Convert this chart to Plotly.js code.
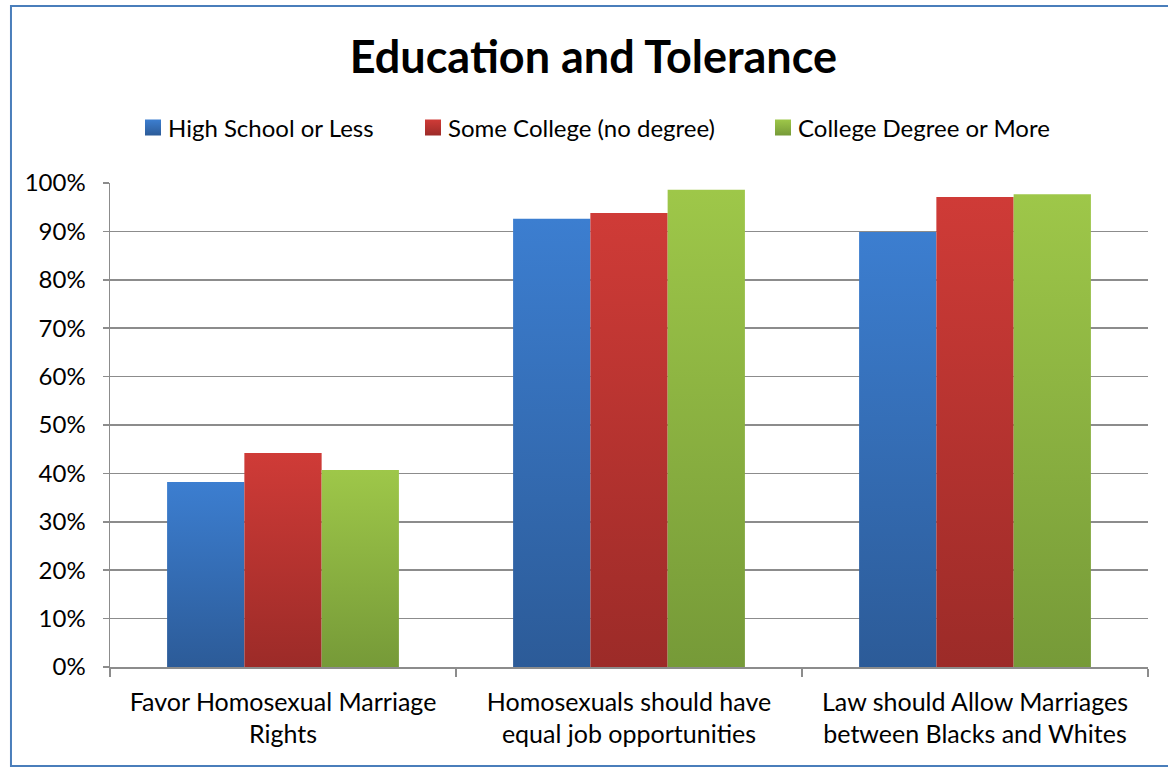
<!DOCTYPE html>
<html>
<head>
<meta charset="utf-8">
<script src="https://cdn.plot.ly/plotly-3.0.1.min.js"></script>
<style>
  html, body { margin: 0; padding: 0; background: #fff; }
  #chart { width: 1168px; height: 769px; }
</style>
</head>
<body>
<div id="chart"></div>
<script>
const categories = [
  "Favor Homosexual Marriage<br>Rights",
  "Homosexuals should have<br>equal job opportunities",
  "Law should Allow Marriages<br>between Blacks and Whites"
];
const seriesNames = ["High School or Less", "Some College (no degree)", "College Degree or More"];
const highSchool = [38.2, 92.6, 89.9];
const someCollege = [44.2, 93.8, 97.1];
const collegeDegree = [40.7, 98.6, 97.7];
const yTickVals = [0, 10, 20, 30, 40, 50, 60, 70, 80, 90, 100];

const seriesValues = [highSchool, someCollege, collegeDegree];
const topColors = ["#3c7ed0", "#cf3b37", "#9ec749"];
const bottomColors = ["#2c5b98", "#9c2b28", "#769a38"];
const legendIds = ["legend", "legend2", "legend3"];
// legend square left edges (px) in the figure
const legendSquareX = [145, 425, 775];

const FONT = "Lato, 'Open Sans', sans-serif";
const W = 1168, H = 769;
const M = { l: 110, r: 20, t: 183, b: 102 };
const PW = W - M.l - M.r;
const PH = H - M.t - M.b;

const traces = seriesValues.map((vals, i) => ({
  type: "bar",
  name: seriesNames[i],
  x: categories,
  y: vals,
  legend: legendIds[i],
  marker: { color: topColors[i], line: { width: 0 } },
  hoverinfo: "none"
}));

function legendCfg(i) {
  return {
    orientation: "h",
    x: (legendSquareX[i] - 17 - M.l) / PW, xanchor: "left",
    y: (H - M.b - 128) / PH, yanchor: "middle",
    font: { family: FONT, size: 24, color: "#000000" },
    itemwidth: 30,
    borderwidth: 0,
    bgcolor: "rgba(0,0,0,0)"
  };
}

const layout = {
  width: W,
  height: H,
  paper_bgcolor: "#ffffff",
  plot_bgcolor: "#ffffff",
  margin: M,
  title: {
    text: "<b>Education and Tolerance</b>",
    font: { family: FONT, size: 45, color: "#000000" },
    x: 0.508, xanchor: "center",
    y: 0.925, yanchor: "middle"
  },
  barmode: "group",
  bargap: 0.33,
  bargroupgap: 0,
  showlegend: true,
  legend: legendCfg(0),
  legend2: legendCfg(1),
  legend3: legendCfg(2),
  xaxis: {
    type: "category",
    showline: true,
    linecolor: "#8c8c8c",
    linewidth: 1.5,
    ticks: "outside",
    tickson: "boundaries",
    ticklen: 8,
    tickcolor: "#8c8c8c",
    tickwidth: 1.5,
    ticklabelstandoff: 12,
    tickfont: { family: FONT, size: 25, color: "#000000" },
    showgrid: false,
    fixedrange: true
  },
  yaxis: {
    range: [0, 100],
    tickvals: yTickVals,
    ticktext: yTickVals.map(v => v + "%"),
    showline: true,
    linecolor: "#8c8c8c",
    linewidth: 1.5,
    ticks: "outside",
    ticklen: 6,
    tickcolor: "#8c8c8c",
    tickwidth: 1.5,
    ticklabelstandoff: 12,
    tickfont: { family: FONT, size: 24, color: "#000000" },
    showgrid: true,
    gridcolor: "#8c8c8c",
    gridwidth: 1.6,
    zeroline: false,
    fixedrange: true
  },
  shapes: [{
    type: "rect",
    xref: "paper", yref: "paper",
    x0: -0.0954, x1: 1.03,
    y0: -0.2045, y1: 1.3657,
    line: { color: "#4a7ebb", width: 2 },
    fillcolor: "rgba(0,0,0,0)",
    layer: "below"
  }]
};

Plotly.newPlot("chart", traces, layout, { displayModeBar: false, staticPlot: true }).then(gd => {
  const svg = gd.querySelector("svg.main-svg");
  const ns = "http://www.w3.org/2000/svg";
  let defs = svg.querySelector("defs");
  if (!defs) { defs = document.createElementNS(ns, "defs"); svg.insertBefore(defs, svg.firstChild); }
  topColors.forEach((c, i) => {
    const g = document.createElementNS(ns, "linearGradient");
    g.setAttribute("id", "barGrad" + i);
    g.setAttribute("x1", "0"); g.setAttribute("y1", "0");
    g.setAttribute("x2", "0"); g.setAttribute("y2", "1");
    const s1 = document.createElementNS(ns, "stop");
    s1.setAttribute("offset", "0"); s1.setAttribute("stop-color", c);
    const s2 = document.createElementNS(ns, "stop");
    s2.setAttribute("offset", "1"); s2.setAttribute("stop-color", bottomColors[i]);
    g.appendChild(s1); g.appendChild(s2);
    defs.appendChild(g);
  });
  gd.querySelectorAll(".barlayer .trace.bars").forEach((tr, i) => {
    tr.querySelectorAll("path").forEach(p => { p.style.fill = "url(#barGrad" + i + ")"; });
  });
  gd.querySelectorAll(".legendpoints").forEach(lp => {
    let tr = lp.parentNode;
    while (tr && !(tr.classList && tr.classList.contains("traces"))) tr = tr.parentNode;
    if (!tr) return;
    const name = tr.textContent.trim();
    const i = seriesNames.indexOf(name);
    if (i < 0) return;
    lp.querySelectorAll("path").forEach(p => {
      p.style.fill = "url(#barGrad" + i + ")";
      p.setAttribute("d", "M13,8H-3V-8H13Z");
    });
  });
});
</script>
</body>
</html>
